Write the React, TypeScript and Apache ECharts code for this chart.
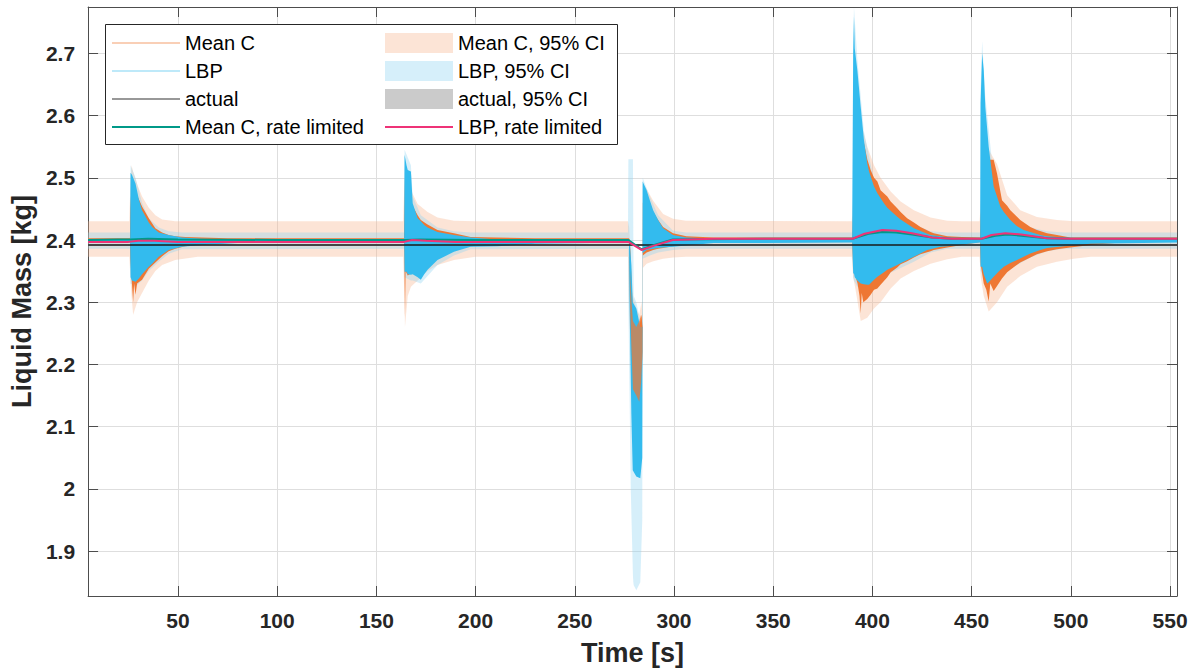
import React, { useEffect, useRef } from 'react';
import * as echarts from 'echarts';

const X_MIN = 4.7;
const X_MAX = 553.5;
const Y_MIN = 1.8277;
const Y_MAX = 2.7746;

type Band = [number, number, number][];
type Pts = [number, number][];

// [time, lower, upper]
const MEANC_CI: Band = [
  [4.7, 2.373, 2.43], [25.5, 2.373, 2.43], [26.0, 2.34, 2.49], [26.6, 2.31, 2.52], [27.4, 2.28, 2.51],
  [29.4, 2.3, 2.49], [31.9, 2.315, 2.47], [35.3, 2.335, 2.452], [38.6, 2.35, 2.44], [42, 2.36, 2.433],
  [48.6, 2.368, 2.43], [60, 2.373, 2.43], [163.5, 2.373, 2.43], [164.1, 2.31, 2.49], [164.4, 2.26, 2.52],
  [165.8, 2.31, 2.51], [167.4, 2.325, 2.48], [170.8, 2.335, 2.458], [175.8, 2.35, 2.445], [180.8, 2.36, 2.436],
  [189.1, 2.368, 2.431], [200, 2.373, 2.43], [276.8, 2.373, 2.43], [277.4, 2.28, 2.42], [278.5, 2.2, 2.36],
  [279.2, 2.15, 2.31], [281, 2.13, 2.29], [282.5, 2.12, 2.28], [283.6, 2.17, 2.3], [284.1, 2.2, 2.28],
  [284.3, 2.355, 2.49], [286.2, 2.362, 2.482], [289.5, 2.366, 2.463], [294.5, 2.37, 2.442], [299.5, 2.372, 2.434],
  [306, 2.373, 2.431], [389.6, 2.373, 2.43], [390.3, 2.34, 2.47], [391.5, 2.32, 2.59], [394.1, 2.27, 2.59],
  [397.4, 2.275, 2.55], [400.8, 2.29, 2.52], [404.1, 2.3, 2.5], [409.2, 2.322, 2.478], [414.2, 2.338, 2.462],
  [420.9, 2.35, 2.448], [429.3, 2.362, 2.436], [437.7, 2.369, 2.431], [445, 2.373, 2.43], [454.0, 2.373, 2.43],
  [454.6, 2.34, 2.46], [456.1, 2.31, 2.515], [458.6, 2.285, 2.545], [462.8, 2.3, 2.522], [467.9, 2.325, 2.472],
  [474.5, 2.342, 2.448], [482.9, 2.357, 2.437], [493, 2.365, 2.432], [501.4, 2.37, 2.43], [510, 2.373, 2.43],
  [553.5, 2.373, 2.43],
];

const LBP_CI: Band = [
  [4.7, 2.386, 2.412], [25.9, 2.386, 2.412], [26.1, 2.33, 2.52], [28.6, 2.325, 2.5], [31.9, 2.335, 2.46],
  [35.3, 2.35, 2.435], [40.3, 2.365, 2.42], [45.3, 2.378, 2.414], [52, 2.385, 2.412], [164.0, 2.386, 2.412],
  [164.2, 2.34, 2.545], [167.4, 2.335, 2.52], [168.3, 2.335, 2.47], [172.4, 2.33, 2.44], [180.8, 2.36, 2.42],
  [189.1, 2.375, 2.414], [197.5, 2.385, 2.412], [276.8, 2.386, 2.412], [277.0, 2.3, 2.53], [278.2, 2.0, 2.53],
  [279.3, 1.86, 2.53], [279.5, 1.85, 2.4], [279.7, 1.845, 2.31], [281, 1.837, 2.3], [283, 1.85, 2.27],
  [284.0, 1.95, 2.27], [284.2, 2.37, 2.5], [287.8, 2.375, 2.47], [292, 2.38, 2.44], [299.5, 2.384, 2.415],
  [306.2, 2.386, 2.412], [389.8, 2.386, 2.412], [390.3, 2.34, 2.72], [390.7, 2.335, 2.774], [392.4, 2.325, 2.69],
  [395.7, 2.32, 2.575], [400.8, 2.325, 2.495], [407.5, 2.345, 2.46], [414.2, 2.355, 2.44], [420.9, 2.365, 2.425],
  [429.3, 2.38, 2.414], [437.7, 2.386, 2.412], [454.3, 2.386, 2.412], [454.5, 2.35, 2.64], [455.3, 2.345, 2.72],
  [456.9, 2.328, 2.63], [461.1, 2.33, 2.5], [466.2, 2.35, 2.455], [472.9, 2.36, 2.43], [479.6, 2.372, 2.42],
  [488, 2.382, 2.414], [496.3, 2.386, 2.412], [553.5, 2.386, 2.412],
];

const ACTUAL_CI: Band = [[4.7, 2.3905, 2.3935], [553.5, 2.3905, 2.3935]];

const MEANC_ENV: Band = [
  [4.7, 2.396, 2.403], [25.8, 2.396, 2.403], [26.0, 2.37, 2.45], [26.6, 2.34, 2.49], [27.4, 2.3, 2.49],
  [27.9, 2.33, 2.48], [28.6, 2.312, 2.48], [29.4, 2.33, 2.472], [31.9, 2.336, 2.454], [35.3, 2.354, 2.435],
  [38.6, 2.364, 2.419], [42.0, 2.374, 2.412], [45.3, 2.382, 2.408], [48.6, 2.386, 2.406], [53.7, 2.39, 2.405],
  [62, 2.393, 2.404], [75, 2.395, 2.403], [163.9, 2.396, 2.403], [164.1, 2.38, 2.44], [164.4, 2.277, 2.5],
  [164.7, 2.35, 2.5], [165.8, 2.343, 2.49], [167.4, 2.346, 2.46], [170.8, 2.352, 2.44], [172.4, 2.358, 2.432],
  [175.8, 2.366, 2.425], [180.8, 2.374, 2.416], [185.8, 2.382, 2.413], [189.1, 2.385, 2.411], [197.5, 2.39, 2.405],
  [210, 2.393, 2.404], [230, 2.395, 2.403], [277.3, 2.396, 2.403], [277.8, 2.3, 2.4], [278.5, 2.22, 2.34],
  [279.2, 2.17, 2.29], [281, 2.15, 2.27], [282.5, 2.14, 2.26], [283.6, 2.19, 2.28], [284.1, 2.22, 2.26],
  [284.3, 2.375, 2.46], [286.2, 2.38, 2.46], [289.5, 2.384, 2.445], [292, 2.386, 2.432], [294.5, 2.387, 2.421],
  [299.5, 2.39, 2.411], [306.2, 2.393, 2.406], [320, 2.396, 2.404], [389.8, 2.397, 2.404], [390.3, 2.36, 2.45],
  [391.5, 2.341, 2.58], [392.5, 2.33, 2.6], [393.5, 2.31, 2.59], [394.1, 2.282, 2.58], [394.6, 2.315, 2.565],
  [395.4, 2.3, 2.561], [397.4, 2.305, 2.53], [399.1, 2.312, 2.5125], [400.8, 2.32, 2.5], [402.5, 2.322, 2.494],
  [404.1, 2.328, 2.48], [407.5, 2.34, 2.47], [409.2, 2.348, 2.462], [412.5, 2.356, 2.451], [414.2, 2.361, 2.445],
  [417.5, 2.366, 2.435], [420.9, 2.372, 2.428], [424.2, 2.377, 2.421], [429.3, 2.382, 2.413], [430.9, 2.384, 2.411],
  [437.7, 2.388, 2.406], [445, 2.392, 2.405], [454.2, 2.397, 2.404], [454.6, 2.36, 2.44], [456.1, 2.33, 2.5],
  [457.4, 2.32, 2.52], [458.6, 2.301, 2.53], [459.4, 2.33, 2.529], [461.1, 2.318, 2.529], [462.8, 2.326, 2.507],
  [465.3, 2.338, 2.464], [467.9, 2.348, 2.455], [469.5, 2.352, 2.448], [474.5, 2.364, 2.432], [479.6, 2.372, 2.421],
  [482.9, 2.377, 2.416], [488, 2.382, 2.411], [493, 2.385, 2.408], [499.7, 2.388, 2.404], [510, 2.392, 2.404],
  [525, 2.396, 2.404], [553.5, 2.398, 2.404],
];

const MEANC_DIP: Band = [
  [277.9, 2.29, 2.35], [278.6, 2.22, 2.3], [279.3, 2.16, 2.27], [281.0, 2.15, 2.26],
  [282.5, 2.14, 2.27], [283.4, 2.17, 2.28], [284.0, 2.21, 2.26],
];

const LBP_ENV: Band = [
  [4.7, 2.396, 2.401], [25.9, 2.396, 2.401], [26.1, 2.34, 2.508], [26.8, 2.335, 2.505], [28.6, 2.333, 2.491],
  [30.3, 2.338, 2.465], [31.9, 2.345, 2.448], [35.3, 2.357, 2.428], [37.0, 2.362, 2.421], [40.3, 2.373, 2.412],
  [45.3, 2.384, 2.408], [52.0, 2.389, 2.404], [62.0, 2.392, 2.402], [80, 2.395, 2.401], [164.0, 2.396, 2.401],
  [164.2, 2.349, 2.537], [165.2, 2.349, 2.52], [165.8, 2.345, 2.5125], [167.4, 2.344, 2.51], [168.3, 2.345, 2.459],
  [170.8, 2.34, 2.435], [172.4, 2.336, 2.43], [174.1, 2.345, 2.424], [175.8, 2.352, 2.42], [180.8, 2.368, 2.413],
  [189.1, 2.381, 2.408], [197.5, 2.389, 2.404], [210.9, 2.39, 2.401], [230, 2.394, 2.401], [277.3, 2.396, 2.401],
  [277.6, 2.3, 2.4], [278.5, 2.12, 2.36], [279.2, 2.03, 2.3], [281.0, 2.02, 2.29], [283.0, 2.017, 2.26],
  [284.0, 2.05, 2.26], [284.2, 2.379, 2.494], [286.2, 2.384, 2.48], [287.8, 2.385, 2.464], [289.5, 2.386, 2.448],
  [292, 2.387, 2.432], [294.5, 2.388, 2.419], [299.5, 2.389, 2.408], [306.2, 2.391, 2.404], [320, 2.395, 2.402],
  [389.8, 2.396, 2.402], [390.3, 2.346, 2.7], [390.7, 2.346, 2.759], [391.1, 2.34, 2.708], [392.4, 2.335, 2.673],
  [394.1, 2.33, 2.614], [395.7, 2.329, 2.561], [397.4, 2.328, 2.523], [398.3, 2.328, 2.51], [400.8, 2.336, 2.486],
  [402.5, 2.341, 2.475], [405.8, 2.348, 2.459], [407.5, 2.352, 2.452], [412.5, 2.36, 2.4375], [414.2, 2.3625, 2.433],
  [420.9, 2.373, 2.419], [427.6, 2.384, 2.41], [429.3, 2.385, 2.408], [434.3, 2.389, 2.406], [437.7, 2.39, 2.404],
  [454.3, 2.396, 2.402], [454.5, 2.357, 2.62], [455.3, 2.357, 2.7], [456.1, 2.345, 2.673], [456.9, 2.338, 2.614],
  [457.8, 2.33, 2.58], [458.6, 2.332, 2.55], [461.1, 2.341, 2.486], [464.5, 2.352, 2.4535], [466.2, 2.357, 2.445],
  [469.5, 2.363, 2.432], [472.9, 2.368, 2.422], [476.2, 2.373, 2.416], [479.6, 2.3785, 2.413], [484.6, 2.384, 2.408],
  [488, 2.387, 2.406], [496.3, 2.39, 2.404], [510, 2.394, 2.402], [553.5, 2.396, 2.402],
];

const ACTUAL: Pts = [[4.7, 2.392], [553.5, 2.392]];

const MEANC_RL: Pts = [
  [4.7, 2.4], [20, 2.401], [26, 2.401], [35, 2.402], [50, 2.401], [100, 2.4], [164, 2.4], [172, 2.401],
  [200, 2.4], [277, 2.4], [283.6, 2.385], [290, 2.392], [299.4, 2.401], [350, 2.402], [390, 2.402],
  [398, 2.41], [405, 2.413], [412, 2.412], [420, 2.409], [430, 2.404], [440, 2.402], [455, 2.402],
  [462, 2.407], [468, 2.409], [475, 2.407], [488, 2.403], [500, 2.402], [553.5, 2.402],
];

const LBP_RL: Pts = [
  [4.7, 2.397], [25, 2.397], [30, 2.399], [38, 2.399], [50, 2.397], [164, 2.397], [168, 2.4], [175, 2.399],
  [190, 2.397], [277, 2.397], [283.6, 2.384], [290, 2.391], [299.4, 2.4], [320, 2.402], [390, 2.402],
  [396, 2.41], [405, 2.416], [412, 2.415], [420, 2.411], [430, 2.404], [440, 2.402], [455, 2.402],
  [460, 2.408], [467, 2.411], [475, 2.409], [488, 2.403], [500, 2.402], [553.5, 2.402],
];

const FONT = '"Liberation Sans", Arial, Helvetica, sans-serif';
const AXIS_COLOR = '#4d4d4d';
const TEXT_COLOR = '#262626';
const LINE_ICON = 'path://M0,0h68v0.05h-68zM0,9.4h68v1.2h-68zM0,19.95h68v0.05h-68z';
const LINE_ICON_THICK = 'path://M0,0h68v0.05h-68zM0,9h68v2h-68zM0,19.95h68v0.05h-68z';

function bandSeries(name: string, band: Band, color: string) {
  return {
    type: 'custom',
    name,
    clip: true,
    silent: true,
    itemStyle: { color },
    data: band.map((r) => [r[0], r[1], r[2]]),
    encode: { x: 0, y: [1, 2] },
    renderItem: (params: any, api: any) => {
      if (params.dataIndex !== 0) return null;
      const up = band.map((r) => api.coord([r[0], r[2]]));
      const lo = band.map((r) => api.coord([r[0], r[1]])).reverse();
      return {
        type: 'polygon',
        shape: { points: up.concat(lo) },
        style: { fill: color, stroke: null },
        silent: true,
      };
    },
  };
}

function lineSeries(name: string, pts: Pts, color: string, width: number) {
  return {
    type: 'line',
    name,
    data: pts,
    symbol: 'none',
    showSymbol: false,
    silent: true,
    lineStyle: { color, width },
    itemStyle: { color },
  };
}

export default function App() {
  const ref = useRef<HTMLDivElement>(null);

  useEffect(() => {
    if (!ref.current) return;
    const chart = echarts.init(ref.current, undefined, { renderer: 'svg' });

    const labelStyle = {
      fontSize: 21,
      fontWeight: 'bold',
      color: TEXT_COLOR,
      fontFamily: FONT,
    };
    const nameStyle = { fontSize: 27, fontWeight: 'bold', color: TEXT_COLOR, fontFamily: FONT };
    const axisLine = { show: true, onZero: false, lineStyle: { color: AXIS_COLOR, width: 1 } };
    const tick = { show: true, inside: true, length: 10, lineStyle: { color: AXIS_COLOR, width: 1 } };
    const split = { show: true, lineStyle: { color: '#dedede', width: 1 } };
    const fmt = (v: number) => String(Number(v.toFixed(3)));

    const legendCommon = {
      orient: 'vertical',
      top: 33,
      padding: 0,
      itemGap: 8,
      itemWidth: 68,
      itemHeight: 20,
      selectedMode: false,
      textStyle: { fontSize: 20, lineHeight: 20, color: '#000', fontFamily: FONT },
    };

    chart.setOption({
      animation: false,
      backgroundColor: '#fff',
      grid: { left: 86, top: 7, width: 1091, height: 589, containLabel: false },
      xAxis: [
        {
          type: 'value', min: X_MIN, max: X_MAX, splitNumber: 11, position: 'bottom',
          axisLine, axisTick: tick, splitLine: split,
          axisLabel: { ...labelStyle, margin: 14, showMinLabel: false, showMaxLabel: false, formatter: fmt },
          name: 'Time [s]', nameLocation: 'middle', nameGap: 43, nameTextStyle: nameStyle,
        },
        {
          type: 'value', min: X_MIN, max: X_MAX, splitNumber: 11, position: 'top',
          axisLine, axisTick: tick, splitLine: { show: false }, axisLabel: { show: false },
        },
      ],
      yAxis: [
        {
          type: 'value', min: Y_MIN, max: Y_MAX, splitNumber: 9, position: 'left',
          axisLine, axisTick: tick, splitLine: split,
          axisLabel: { ...labelStyle, margin: 13, showMinLabel: false, showMaxLabel: false, formatter: fmt },
          name: 'Liquid Mass [kg]', nameLocation: 'middle', nameGap: 47, nameTextStyle: nameStyle,
        },
        {
          type: 'value', min: Y_MIN, max: Y_MAX, splitNumber: 9, position: 'right',
          axisLine, axisTick: tick, splitLine: { show: false }, axisLabel: { show: false },
        },
      ],
      legend: [
        {
          ...legendCommon,
          left: 112,
          data: [
            { name: 'Mean C', icon: LINE_ICON, itemStyle: { color: '#F3A06F' } },
            { name: 'LBP', icon: LINE_ICON, itemStyle: { color: '#7FD3F3' } },
            { name: 'actual', icon: LINE_ICON, itemStyle: { color: '#333333' } },
            { name: 'Mean C, rate limited', icon: LINE_ICON_THICK, itemStyle: { color: '#009988' } },
          ],
        },
        {
          ...legendCommon,
          left: 385,
          data: [
            { name: 'Mean C, 95% CI', icon: 'rect' },
            { name: 'LBP, 95% CI', icon: 'rect' },
            { name: 'actual, 95% CI', icon: 'rect' },
            { name: 'LBP, rate limited', icon: LINE_ICON_THICK, itemStyle: { color: '#EE3377' } },
          ],
        },
      ],
      graphic: [
        {
          type: 'rect',
          z: 3,
          shape: { x: 105.5, y: 24.5, width: 512, height: 120 },
          style: { fill: '#fff', stroke: '#262626', lineWidth: 1 },
          silent: true,
        },
      ],
      series: [
        bandSeries('Mean C, 95% CI', MEANC_CI, 'rgba(246,180,140,0.36)'),
        bandSeries('LBP, 95% CI', LBP_CI, 'rgba(140,210,240,0.36)'),
        bandSeries('actual, 95% CI', ACTUAL_CI, 'rgba(190,190,190,0.8)'),
        bandSeries('Mean C', MEANC_ENV, '#EE7733'),
        bandSeries('LBP', LBP_ENV, '#33BBEE'),
        bandSeries('Mean C dip', MEANC_DIP, 'rgba(238,119,51,0.72)'),
        lineSeries('actual', ACTUAL, '#1a1a1a', 1.5),
        lineSeries('Mean C, rate limited', MEANC_RL, '#009988', 2),
        lineSeries('LBP, rate limited', LBP_RL, '#EE3377', 2),
      ],
    });

    return () => chart.dispose();
  }, []);

  return (
    <div
      ref={ref}
      style={{ position: 'absolute', left: 0, top: 0, width: 1195, height: 671, background: '#fff' }}
    />
  );
}
